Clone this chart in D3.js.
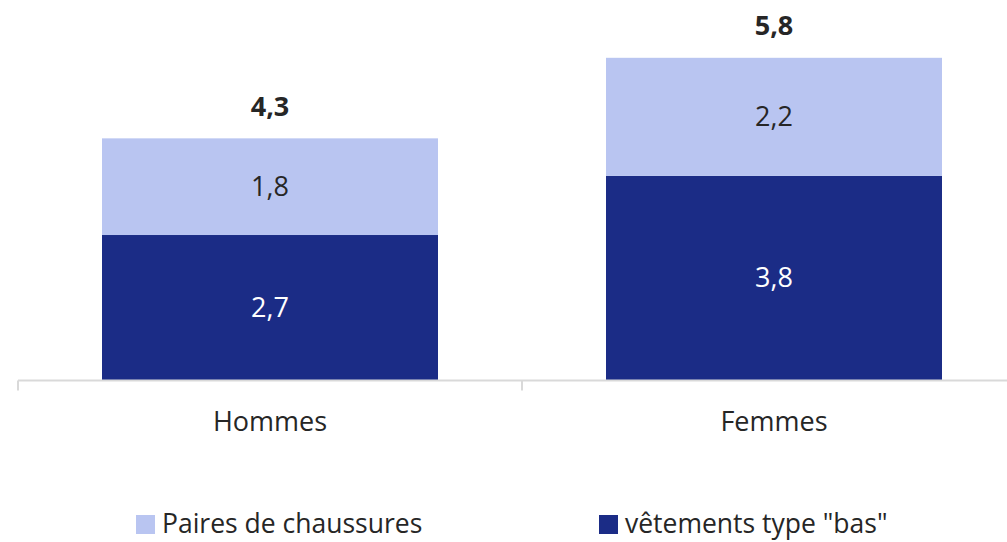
<!DOCTYPE html>
<html>
<head>
<meta charset="utf-8">
<script src="https://cdn.jsdelivr.net/npm/d3@7"></script>
<style>
  body { margin: 0; background: #fff; }
  text { font-family: "Open Sans", "DejaVu Sans", sans-serif; }
</style>
</head>
<body>
<svg id="chart" width="1007" height="542"></svg>
<script>
var categories = ["Hommes", "Femmes"];
var bas = [2.7, 3.8];          // vêtements type "bas"
var chaussures = [1.8, 2.2];   // Paires de chaussures
var totals = [4.3, 5.8];
var seriesNames = ["vêtements type \"bas\"", "Paires de chaussures"];
var colors = ["#1b2c86", "#b9c5f1"];

var fmt = function(v){ return d3.format(".1f")(v).replace(".", ","); };

var svg = d3.select("#chart");

// zone de tracé (déborde un peu à droite comme l'original)
var x = d3.scaleBand().domain(categories).range([18, 1026]).paddingInner(0).paddingOuter(0);
var y = d3.scaleLinear().domain([0, 7]).range([380, 380 - 7 * 53.7]);

var rows = categories.map(function(c, i){
  return { cat: c, bas: bas[i], chaussures: chaussures[i], total: totals[i] };
});
var stack = d3.stack().keys(["bas", "chaussures"])(rows);

var barW = x.bandwidth() * 2 / 3;

var groups = svg.selectAll("g.serie")
  .data(stack)
  .enter()
  .append("g")
  .attr("class", "serie")
  .attr("fill", function(d, i){ return colors[i]; });

groups.selectAll("rect")
  .data(function(d){ return d; })
  .enter()
  .append("rect")
  .attr("x", function(d){ return x(d.data.cat) + (x.bandwidth() - barW) / 2; })
  .attr("y", function(d){ return y(d[1]); })
  .attr("width", barW)
  .attr("height", function(d){ return y(d[0]) - y(d[1]); });

// étiquettes dans les barres
stack.forEach(function(s, si){
  svg.selectAll("text.lab" + si)
    .data(s)
    .enter()
    .append("text")
    .attr("class", "lab" + si)
    .attr("x", function(d){ return x(d.data.cat) + x.bandwidth() / 2; })
    .attr("y", function(d){ return (y(d[0]) + y(d[1])) / 2; })
    .attr("dy", "0.35em")
    .attr("text-anchor", "middle")
    .attr("font-size", 27)
    .attr("fill", si === 0 ? "#ffffff" : "#262626")
    .text(function(d){ return fmt(d.data[s.key]); });
});

// totaux
svg.selectAll("text.total")
  .data(rows)
  .enter()
  .append("text")
  .attr("class", "total")
  .attr("x", function(d){ return x(d.cat) + x.bandwidth() / 2; })
  .attr("y", function(d){ return y(d.bas + d.chaussures) - 32; })
  .attr("dy", "0.35em")
  .attr("text-anchor", "middle")
  .attr("font-size", 27)
  .attr("font-weight", "bold")
  .attr("fill", "#262626")
  .text(function(d){ return fmt(d.total); });

// axe x
var axis = svg.append("g")
  .attr("transform", "translate(0," + 380.5 + ")");
axis.append("line")
  .attr("x1", 18).attr("x2", 1026)
  .attr("stroke", "#d9d9d9").attr("stroke-width", 2);
axis.selectAll("line.tick")
  .data(categories)
  .enter()
  .append("line")
  .attr("class", "tick")
  .attr("x1", function(d){ return Math.round(x(d)); })
  .attr("x2", function(d){ return Math.round(x(d)); })
  .attr("y1", 0).attr("y2", 10)
  .attr("stroke", "#d9d9d9").attr("stroke-width", 2);
axis.selectAll("text")
  .data(categories)
  .enter()
  .append("text")
  .attr("x", function(d){ return x(d) + x.bandwidth() / 2; })
  .attr("y", 41)
  .attr("dy", "0.35em")
  .attr("text-anchor", "middle")
  .attr("font-size", 27)
  .attr("fill", "#262626")
  .text(function(d){ return d; });

// légende
var legend = [
  { name: seriesNames[1], color: colors[1], x: 136 },
  { name: seriesNames[0], color: colors[0], x: 599 }
];
var lg = svg.selectAll("g.legend")
  .data(legend)
  .enter()
  .append("g")
  .attr("class", "legend")
  .attr("transform", function(d){ return "translate(" + d.x + ",515)"; });
lg.append("rect")
  .attr("width", 19).attr("height", 19)
  .attr("fill", function(d){ return d.color; });
lg.append("text")
  .attr("x", 26)
  .attr("y", 9)
  .attr("dy", "0.35em")
  .attr("font-size", 26.5)
  .attr("fill", "#262626")
  .text(function(d){ return d.name; });
</script>
</body>
</html>
